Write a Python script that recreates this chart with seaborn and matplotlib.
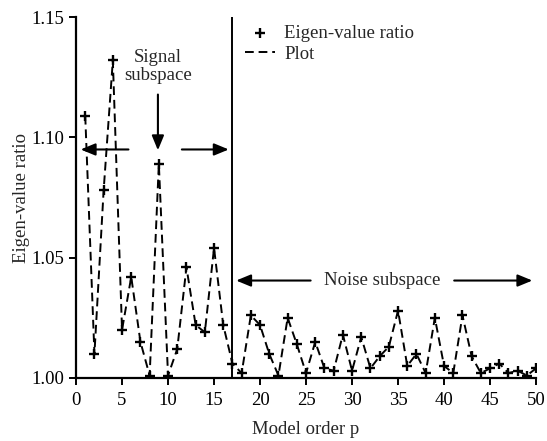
import numpy as np
import pandas as pd
import matplotlib
matplotlib.use("Agg")
import matplotlib.pyplot as plt
import seaborn as sns

# model order p and eigen-value ratio
order = list(range(1, 51))
ratio = [1.109, 1.010, 1.078, 1.132, 1.020, 1.042, 1.015, 1.001, 1.089, 1.001,
         1.012, 1.046, 1.022, 1.019, 1.054, 1.022, 1.006, 1.002, 1.026, 1.022,
         1.010, 1.001, 1.025, 1.014, 1.002, 1.015, 1.004, 1.003, 1.018, 1.003,
         1.017, 1.004, 1.009, 1.013, 1.028, 1.005, 1.010, 1.002, 1.025, 1.005,
         1.002, 1.026, 1.009, 1.002, 1.004, 1.006, 1.002, 1.003, 1.001, 1.004]
x_ticks = [0, 5, 10, 15, 20, 25, 30, 35, 40, 45, 50]
y_ticks = [1.00, 1.05, 1.10, 1.15]
split_p = 17

sns.set_theme(style="ticks")
plt.rcParams['font.family'] = ['Liberation Serif', 'DejaVu Serif']

df = pd.DataFrame({"p": order, "ratio": ratio})

fig = plt.figure(figsize=(5.47, 4.41), dpi=100)
ax = fig.add_axes([0.139, 0.143, 0.841, 0.818])

sns.lineplot(data=df, x="p", y="ratio", ax=ax, color="black", lw=1.4,
             linestyle=(0, (4.5, 2.5)), label="Plot")
sns.scatterplot(data=df, x="p", y="ratio", ax=ax, color="black", marker="+",
                s=60, linewidth=1.7, label="Eigen-value ratio", zorder=3)

ax.axvline(split_p, color="black", lw=1.4)

arrow = dict(arrowstyle="-|>,head_length=0.8,head_width=0.33", color="black",
             lw=1.5, mutation_scale=11)
# signal subspace
ax.annotate("", xy=(0.2, 1.095), xytext=(6.0, 1.095), arrowprops=arrow)
ax.annotate("", xy=(16.9, 1.095), xytext=(11.2, 1.095), arrowprops=arrow)
ax.annotate("", xy=(8.9, 1.0935), xytext=(8.9, 1.119), arrowprops=arrow)
ax.text(8.9, 1.1295, "Signal\nsubspace", ha="center", va="center", fontsize=13.5,
        linespacing=1.05)
# noise subspace
ax.annotate("", xy=(17.1, 1.0405), xytext=(25.8, 1.0405), arrowprops=arrow)
ax.annotate("", xy=(49.9, 1.0405), xytext=(40.8, 1.0405), arrowprops=arrow)
ax.text(33.3, 1.0405, "Noise subspace", ha="center", va="center", fontsize=13.5)

ax.set_xlim(0, 50)
ax.set_ylim(1.0, 1.15)
ax.set_xticks(x_ticks)
ax.set_yticks(y_ticks)
ax.set_yticklabels([f"{t:.2f}" for t in y_ticks])
ax.set_xlabel("Model order p", fontsize=13.5, labelpad=9)
ax.set_ylabel("Eigen-value ratio", fontsize=13.5, labelpad=1)
ax.tick_params(labelsize=13.5, width=1.4, length=5, color="black", labelcolor="black")
ax.tick_params(axis="x", pad=5)
sns.despine(ax=ax)
for s in ["left", "bottom"]:
    ax.spines[s].set_linewidth(1.6)
    ax.spines[s].set_color("black")

h, l = ax.get_legend_handles_labels()
ax.legend(h[::-1], l[::-1], loc="upper left", bbox_to_anchor=(0.33, 1.025),
          frameon=False, fontsize=13.5, handlelength=1.6, handletextpad=0.5,
          labelspacing=0.2)

fig.savefig("out.png", dpi=100)
